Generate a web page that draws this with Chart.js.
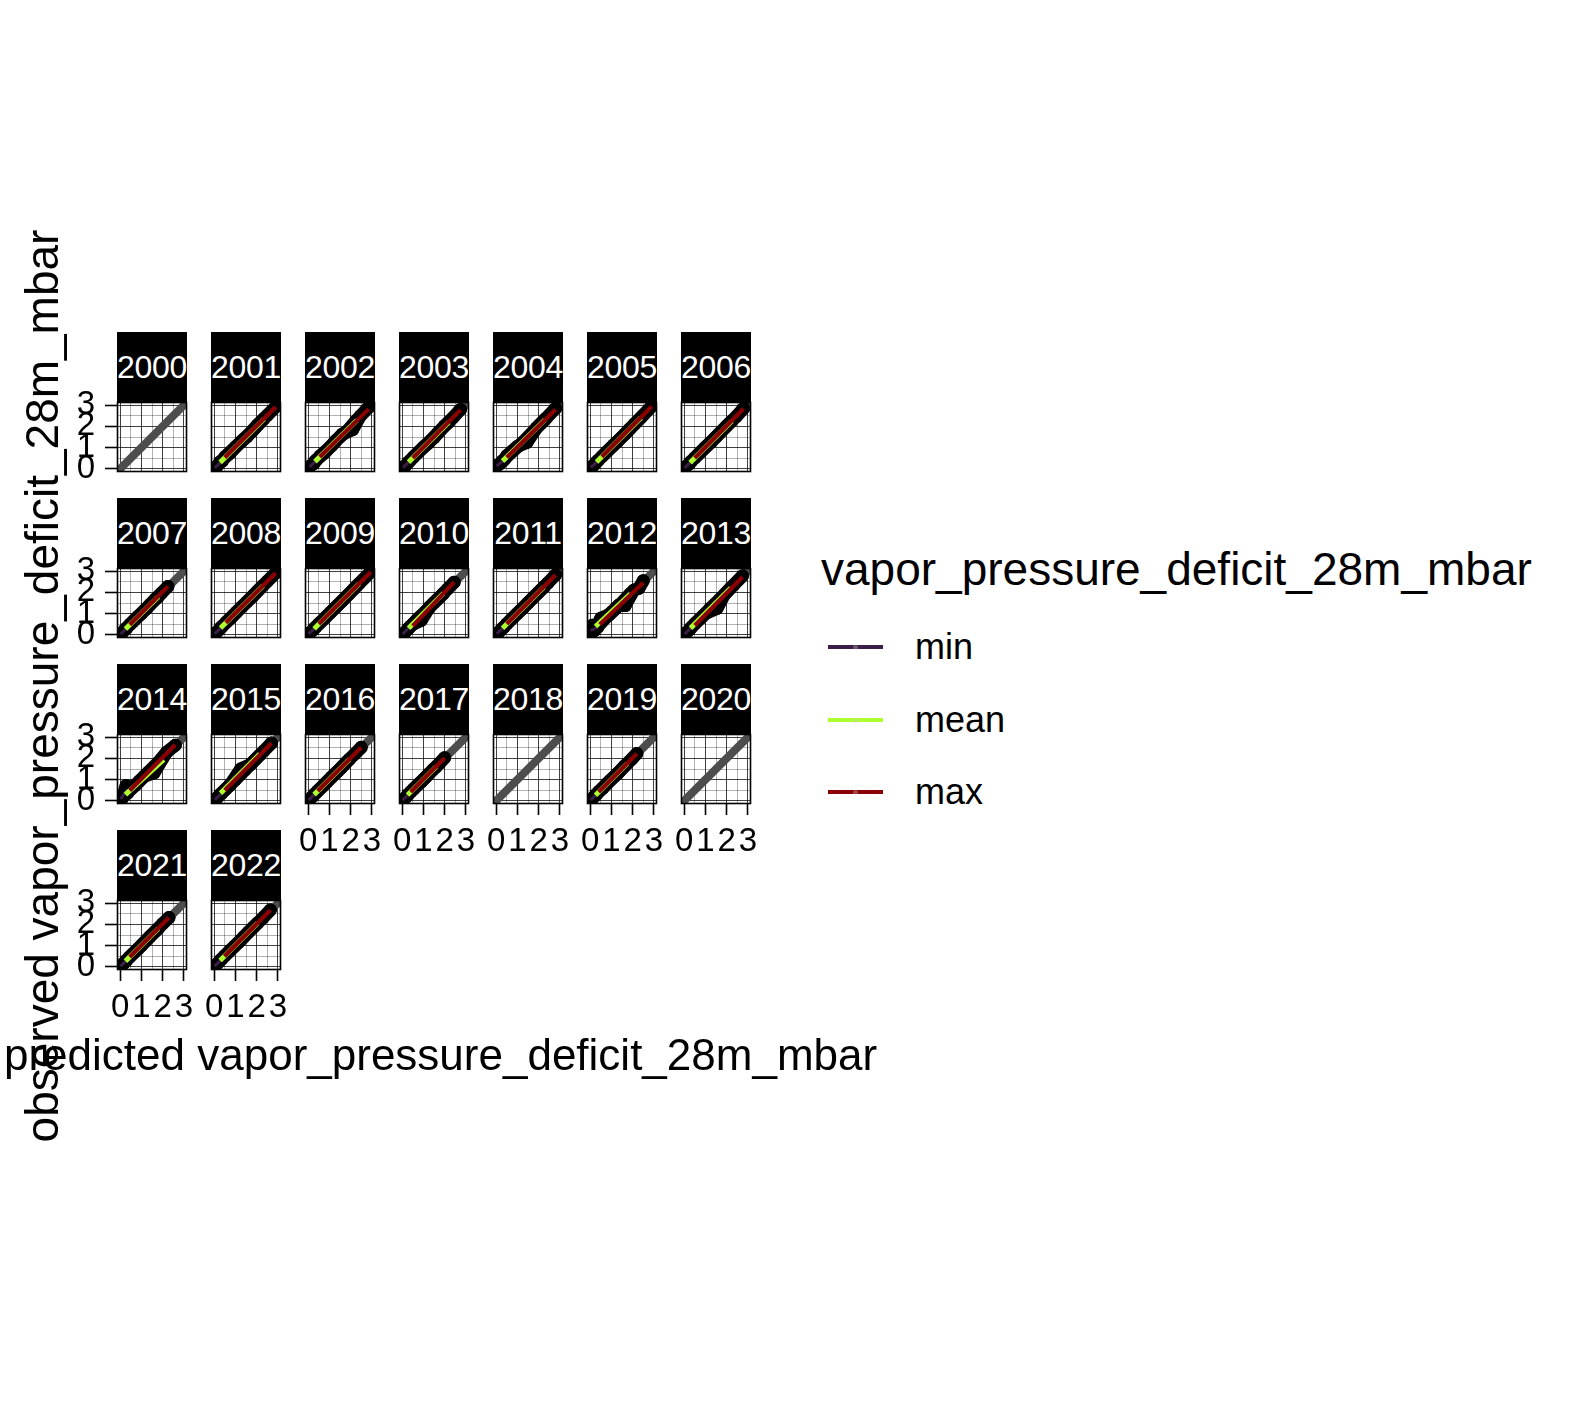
<!DOCTYPE html>
<html><head><meta charset="utf-8">
<script src="https://cdn.jsdelivr.net/npm/chart.js@4.4.1/dist/chart.umd.min.js"></script>
<style>
body{margin:0;background:#fff;width:1574px;height:1411px;overflow:hidden;position:relative;font-family:"Liberation Sans",Arial,sans-serif;color:#000;}
.strip{position:absolute;background:#000;color:#fff;font-size:32px;display:flex;align-items:center;justify-content:center;white-space:nowrap;letter-spacing:-0.3px;}
canvas{position:absolute;}
.ttl{position:absolute;font-size:46px;white-space:nowrap;display:flex;align-items:center;justify-content:center;}
.leg{position:absolute;white-space:nowrap;}
.key{position:absolute;width:55px;height:4px;}
.dot{position:absolute;left:25px;top:-0.5px;width:5px;height:5px;border-radius:3px;background:rgba(200,200,200,0.35);}
</style></head><body>
<script>
// ---------------- data ----------------
const years = ["2000","2001","2002","2003","2004","2005","2006","2007","2008","2009","2010","2011",
               "2012","2013","2014","2015","2016","2017","2018","2019","2020","2021","2022"];
const seriesNames = ["min","mean","max"];
const seriesColors = ["#3B1E48","#ADFF2F","#8B0000"];
const tickValues = [0,0.5,1,1.5,2,2.5,3];
const axisMin = -0.15, axisMax = 3.15;

// [predicted, observed] pairs per year
const minPts = [
 [],
 [[0.03,0.05],[0.12,0.1],[0.24,0.27],[0.38,0.36]],
 [[0.06,0.1],[0.15,0.17],[0.27,0.25],[0.4,0.43]],
 [[0.04,0.08],[0.14,0.12],[0.26,0.28],[0.38,0.4]],
 [[0.02,0.15],[0.12,0.2],[0.25,0.3],[0.4,0.45]],
 [[0.03,0.08],[0.13,0.14],[0.25,0.26],[0.4,0.42]],
 [[0.02,0.05],[0.1,0.12],[0.22,0.22],[0.35,0.37]],
 [[0.02,0.05],[0.1,0.1],[0.2,0.22],[0.32,0.33]],
 [[0.03,0.07],[0.12,0.13],[0.24,0.24],[0.38,0.4]],
 [[0.02,0.05],[0.1,0.11],[0.22,0.22],[0.36,0.37]],
 [[0.02,0.05],[0.12,0.1],[0.24,0.25],[0.38,0.4]],
 [[0.03,0.06],[0.12,0.12],[0.24,0.25],[0.38,0.38]],
 [[0.02,0.1],[0.1,0.45],[0.2,0.2],[0.35,0.35]],
 [[0.03,0.05],[0.12,0.12],[0.25,0.24],[0.38,0.4]],
 [[0.02,0.08],[0.1,0.12],[0.28,0.72],[0.35,0.36]],
 [[0.03,0.06],[0.12,0.12],[0.24,0.25],[0.38,0.38]],
 [[0.02,0.04],[0.1,0.1],[0.22,0.22],[0.35,0.36]],
 [[0.02,0.04],[0.1,0.1],[0.2,0.2],[0.3,0.32]],
 [],
 [[0.02,0.04],[0.1,0.1],[0.2,0.21],[0.32,0.33]],
 [],
 [[0.02,0.04],[0.1,0.11],[0.2,0.2],[0.32,0.33]],
 [[0.02,0.04],[0.1,0.1],[0.22,0.22],[0.35,0.36]]
];
const meanPts = [
 [],
 [[0.28,0.33],[0.75,0.74],[1.25,1.27],[1.8,1.78],[2.35,2.37]],
 [[0.32,0.36],[0.8,0.78],[1.3,1.33],[1.85,1.8],[2.3,2.32]],
 [[0.3,0.32],[0.75,0.77],[1.2,1.18],[1.7,1.72],[2.2,2.2]],
 [[0.3,0.38],[0.8,0.85],[1.3,1.3],[1.8,1.82],[2.3,2.33]],
 [[0.3,0.33],[0.8,0.82],[1.3,1.3],[1.85,1.87],[2.4,2.42]],
 [[0.28,0.3],[0.75,0.76],[1.25,1.24],[1.75,1.77],[2.25,2.26]],
 [[0.25,0.28],[0.6,0.62],[1.0,1.0],[1.4,1.42],[1.8,1.8]],
 [[0.3,0.33],[0.8,0.8],[1.3,1.32],[1.8,1.8],[2.3,2.32]],
 [[0.28,0.3],[0.8,0.8],[1.35,1.35],[1.9,1.9],[2.4,2.42]],
 [[0.3,0.3],[0.7,0.72],[1.1,1.1],[1.5,1.52],[1.95,1.95]],
 [[0.3,0.31],[0.75,0.77],[1.25,1.25],[1.75,1.76],[2.25,2.25]],
 [[0.25,0.3],[0.5,0.78],[0.9,0.95],[1.4,1.42],[1.9,1.95]],
 [[0.3,0.32],[0.75,0.76],[1.2,1.22],[1.7,1.7],[2.2,2.22]],
 [[0.25,0.3],[0.7,0.72],[1.15,1.17],[1.6,1.32],[2.05,2.07]],
 [[0.3,0.32],[0.75,0.75],[1.25,1.5],[1.7,1.7],[2.15,2.16]],
 [[0.28,0.3],[0.7,0.7],[1.1,1.12],[1.55,1.55],[1.95,1.97]],
 [[0.25,0.27],[0.55,0.57],[0.9,0.9],[1.25,1.27],[1.6,1.6]],
 [],
 [[0.25,0.27],[0.6,0.6],[0.95,0.97],[1.35,1.35],[1.75,1.76]],
 [],
 [[0.25,0.27],[0.6,0.62],[1.0,1.0],[1.4,1.42],[1.8,1.81]],
 [[0.28,0.3],[0.7,0.72],[1.15,1.15],[1.6,1.62],[2.05,2.07]]
];
const maxPts = [
 [],
 [[0.5,0.56],[1.0,1.03],[1.55,1.52],[2.05,2.08],[2.5,2.52],[2.9,2.93]],
 [[0.55,0.6],[1.1,1.08],[1.6,1.63],[2.1,1.85],[2.45,2.48],[2.85,2.9]],
 [[0.5,0.53],[1.0,1.02],[1.5,1.47],[2.0,2.03],[2.4,2.42],[2.75,2.8]],
 [[0.5,0.62],[1.0,1.05],[1.45,1.25],[1.9,1.93],[2.35,2.38],[2.8,2.85]],
 [[0.55,0.58],[1.1,1.12],[1.6,1.6],[2.1,2.12],[2.5,2.53],[2.9,2.95]],
 [[0.5,0.52],[1.0,1.02],[1.5,1.5],[2.0,2.02],[2.45,2.46],[2.8,2.85]],
 [[0.45,0.48],[0.85,0.88],[1.25,1.25],[1.65,1.68],[1.95,1.97],[2.25,2.28]],
 [[0.55,0.58],[1.05,1.07],[1.55,1.56],[2.05,2.07],[2.5,2.52],[2.9,2.92]],
 [[0.5,0.52],[1.05,1.06],[1.6,1.6],[2.15,2.16],[2.6,2.62],[2.95,2.97]],
 [[0.5,0.5],[0.9,0.68],[1.3,1.32],[1.75,1.76],[2.15,2.17],[2.45,2.48]],
 [[0.5,0.52],[1.0,1.01],[1.5,1.51],[2.0,2.01],[2.45,2.46],[2.8,2.83]],
 [[0.45,0.5],[0.9,0.97],[1.35,1.4],[1.65,1.38],[2.05,2.1],[2.3,2.2],[2.5,2.55]],
 [[0.5,0.52],[1.0,1.0],[1.55,1.25],[1.9,1.9],[2.35,2.37],[2.75,2.78]],
 [[0.45,0.5],[0.9,0.93],[1.35,1.37],[1.8,1.82],[2.2,2.3],[2.6,2.62]],
 [[0.5,0.5],[1.0,1.0],[1.45,1.46],[1.95,1.96],[2.35,2.36],[2.7,2.72]],
 [[0.45,0.47],[0.9,0.91],[1.35,1.35],[1.8,1.82],[2.2,2.21],[2.5,2.52]],
 [[0.4,0.42],[0.75,0.77],[1.1,1.1],[1.45,1.47],[1.75,1.76],[2.0,2.03]],
 [],
 [[0.4,0.43],[0.8,0.82],[1.2,1.2],[1.6,1.62],[1.95,1.96],[2.2,2.23]],
 [],
 [[0.45,0.47],[0.85,0.86],[1.25,1.27],[1.65,1.67],[2.0,2.03],[2.3,2.32]],
 [[0.48,0.5],[0.95,0.96],[1.4,1.42],[1.85,1.87],[2.3,2.31],[2.65,2.68]]
];
const seriesPts = [minPts, meanPts, maxPts];

// ---------------- layout ----------------
const NCOL = 7, PW = 70, PH = 70, SH = 70, AXW = 60, AXH = 60, M = 24;
const colLeft = c => 117 + 94 * c;
const stripTop = r => 332 + 166 * r;

Chart.defaults.font.family = '"Liberation Sans", Arial, sans-serif';
Chart.defaults.color = '#000';

function lmFit(pts) {
  const n = pts.length;
  let sx = 0, sy = 0, sxx = 0, sxy = 0, xmin = Infinity, xmax = -Infinity;
  pts.forEach(p => { sx += p.x; sy += p.y; sxx += p.x * p.x; sxy += p.x * p.y; xmin = Math.min(xmin, p.x); xmax = Math.max(xmax, p.x); });
  const b = (n * sxy - sx * sy) / (n * sxx - sx * sx);
  const a = (sy - b * sx) / n;
  return [{x: xmin, y: a + b * xmin}, {x: xmax, y: a + b * xmax}];
}

const borderPlugin = {
  id: 'panelBorder',
  afterDraw(chart) {
    const a = chart.chartArea, ctx = chart.ctx;
    ctx.save(); ctx.strokeStyle = '#000'; ctx.lineWidth = 1.6;
    ctx.strokeRect(a.left + 0.5, a.top + 0.5, a.right - a.left - 1, a.bottom - a.top - 1);
    ctx.restore();
  }
};

const gridColor = ctx => Number.isInteger(ctx.tick && ctx.tick.value) ? 'rgba(0,0,0,0.75)' : 'rgba(0,0,0,0.3)';
const tickColor = ctx => Number.isInteger(ctx.tick && ctx.tick.value) ? '#000' : 'rgba(0,0,0,0)';
const tickLabel = v => Number.isInteger(v) ? String(v) : '';

years.forEach((yr, i) => {
  const r = Math.floor(i / NCOL), c = i % NCOL;
  const isLeft = c === 0;
  const isBottom = i + NCOL >= years.length;
  const L = colLeft(c), ST = stripTop(r), PT = ST + SH;

  const strip = document.createElement('div');
  strip.className = 'strip';
  strip.style.cssText = `left:${L}px;top:${ST}px;width:${PW}px;height:${SH}px;`;
  strip.textContent = yr;
  document.body.appendChild(strip);

  const cv = document.createElement('canvas');
  const axW = isLeft ? AXW : 0, axH = isBottom ? AXH : 0;
  const cw = PW + axW + 2 * M, ch = PH + axH + 2 * M;
  cv.width = cw; cv.height = ch;
  cv.style.cssText = `left:${L - axW - M}px;top:${PT - M}px;width:${cw}px;height:${ch}px;`;
  document.body.appendChild(cv);

  const datasets = [{
    data: [{x: -1, y: -1}, {x: 4, y: 4}], showLine: true, borderColor: '#4D4D4D',
    borderWidth: 8, pointRadius: 0, order: 20, clip: 0
  }];
  seriesPts.forEach((arr, k) => {
    const pts = (arr[i] || []).map(([x, y]) => ({x, y})).sort((a, b) => a.x - b.x);
    if (!pts.length) return;
    datasets.push({
      data: pts, showLine: true, borderColor: '#000', borderWidth: 13,
      borderCapStyle: 'round', borderJoinStyle: 'round',
      pointRadius: 6.5, pointBackgroundColor: '#000', pointBorderWidth: 0,
      order: 12 - k, clip: 0
    });
    datasets.push({
      data: lmFit(pts), showLine: true, borderColor: seriesColors[k],
      borderWidth: [3, 5, 4.2][k], pointRadius: 0, order: 3 - k, clip: 0
    });
  });

  new Chart(cv, {
    type: 'scatter',
    data: {datasets},
    plugins: [borderPlugin],
    options: {
      responsive: false, animation: false, events: [],
      layout: {padding: M, autoPadding: false},
      plugins: {legend: {display: false}, tooltip: {enabled: false}},
      scales: {
        x: {
          type: 'linear', min: axisMin, max: axisMax,
          afterBuildTicks: s => { s.ticks = tickValues.map(v => ({value: v})); },
          afterFit: s => { s.height = axH; s.paddingLeft = 0; s.paddingRight = 0; },
          grid: {color: gridColor, lineWidth: 1, drawTicks: isBottom, tickLength: 11, tickColor, tickWidth: 1.6},
          border: {display: false},
          ticks: {display: isBottom, autoSkip: false, maxRotation: 0, minRotation: 0, padding: 7,
                  color: '#000', font: {size: 33}, callback: tickLabel}
        },
        y: {
          type: 'linear', min: axisMin, max: axisMax,
          afterBuildTicks: s => { s.ticks = tickValues.map(v => ({value: v})); },
          afterFit: s => { s.width = axW; s.paddingTop = 0; s.paddingBottom = 0; },
          grid: {color: gridColor, lineWidth: 1, drawTicks: isLeft, tickLength: 12, tickColor, tickWidth: 1.6},
          border: {display: false},
          ticks: {display: isLeft, autoSkip: false, padding: 10,
                  color: '#000', font: {size: 33}, callback: tickLabel}
        }
      }
    }
  });
});

// ---------------- titles & legend ----------------
function addDiv(cls, css, text) {
  const d = document.createElement('div'); d.className = cls; d.style.cssText = css; d.textContent = text;
  document.body.appendChild(d); return d;
}
addDiv('ttl', 'left:4px;top:1025px;height:60px;font-size:44px;justify-content:flex-start;', 'predicted vapor_pressure_deficit_28m_mbar');
addDiv('ttl', 'left:-558px;top:656px;width:1200px;height:60px;transform:rotate(-90deg);', 'observed vapor_pressure_deficit_28m_mbar');
addDiv('leg', 'left:821px;top:542px;font-size:46px;line-height:54px;', 'vapor_pressure_deficit_28m_mbar');
const legY = [647, 720, 792];
seriesNames.forEach((n, k) => {
  const key = document.createElement('div');
  key.className = 'key';
  key.style.cssText = `left:828px;top:${legY[k] - 2}px;background:${seriesColors[k]};`;
  const dot = document.createElement('div'); dot.className = 'dot'; key.appendChild(dot);
  document.body.appendChild(key);
  addDiv('leg', `left:915px;top:${legY[k] - 21}px;font-size:36px;line-height:42px;`, n);
});
</script>
</body></html>
